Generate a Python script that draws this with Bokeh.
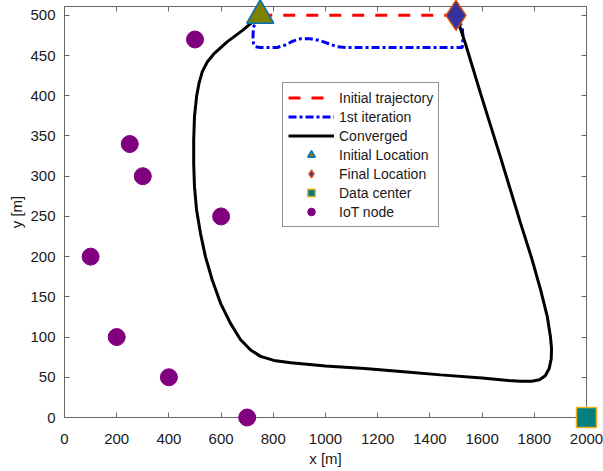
from bokeh.plotting import figure
from bokeh.models import Range1d, FixedTicker, LinearAxis, Legend, LegendItem
from bokeh.embed import file_html
from bokeh.resources import INLINE

# ---------------- data ----------------
x_ticks = [0, 200, 400, 600, 800, 1000, 1200, 1400, 1600, 1800, 2000]
y_ticks = [0, 50, 100, 150, 200, 250, 300, 350, 400, 450, 500]

iot_x = [500, 250, 300, 600, 100, 200, 400, 700]
iot_y = [470, 340, 300, 250, 200, 100, 50, 0]

init_loc_x = [750]
init_loc_y = [500]
final_loc_x = [1500]
final_loc_y = [500]
dc_x = [2000]
dc_y = [0]

init_traj_x = [750, 1500]
init_traj_y = [500, 500]

iter1_x = [750, 735, 724, 722, 724, 732, 750, 815, 845, 875, 905, 940, 975,
           1010, 1045, 1083, 1200, 1350, 1524, 1527, 1524, 1500]
iter1_y = [500, 494, 485, 473, 465, 461, 460, 460, 463, 468, 471, 471, 469,
           465, 461, 460, 460, 460, 460, 472, 485, 500]

conv_x = [750, 681, 623, 572, 547, 528, 515, 506, 498, 495, 495, 498, 506, 521,
          540, 566, 598, 636, 674, 713, 751, 802, 867, 1000, 1150, 1300, 1441,
          1600, 1700, 1747, 1790, 1820, 1842, 1857, 1865, 1866, 1862, 1850,
          1824, 1790, 1747, 1670, 1594, 1536, 1500]
conv_y = [500, 481, 467, 452, 442, 430, 415, 399, 374, 345, 316, 287, 258, 229,
          200, 171, 142, 117, 97, 84, 76, 71, 68, 64, 61, 57, 53,
          49, 46, 45, 45, 47, 52, 61, 73, 86, 100, 125,
          159, 198, 242, 324, 403, 465, 500]

FONT = "Liberation Sans"
AXC = "#666666"
TXT = "#1a1a1a"

p = figure(width=603, height=471, output_backend="svg", toolbar_location=None,
           x_range=Range1d(0, 2000), y_range=Range1d(0, 511),
           min_border_left=64, min_border_right=17, min_border_top=6,
           min_border_bottom=54,
           x_axis_label="x [m]", y_axis_label="y [m]")
p.xgrid.visible = False
p.ygrid.visible = False
p.outline_line_color = AXC
p.background_fill_color = "white"
p.border_fill_color = "white"

for ax in p.xaxis:
    ax.ticker = FixedTicker(ticks=x_ticks)
    ax.major_label_standoff = 16
    ax.axis_label_standoff = 3
for ax in p.yaxis:
    ax.ticker = FixedTicker(ticks=y_ticks)
    ax.major_label_standoff = 9
    ax.axis_label_standoff = 2
for ax in list(p.xaxis) + list(p.yaxis):
    ax.major_tick_in = 5
    ax.major_tick_out = 0
    ax.minor_tick_line_color = None
    ax.axis_line_color = AXC
    ax.major_tick_line_color = AXC
    ax.major_label_text_font = FONT
    ax.major_label_text_font_size = "15px"
    ax.major_label_text_color = TXT
    ax.axis_label_text_font = FONT
    ax.axis_label_text_font_size = "15px"
    ax.axis_label_text_font_style = "normal"
    ax.axis_label_text_color = TXT

top_ax = LinearAxis(ticker=FixedTicker(ticks=x_ticks),
                    major_label_overrides={t: "" for t in x_ticks},
                    major_label_text_font_size="0px",
                    major_label_standoff=0, major_tick_in=5, major_tick_out=0,
                    minor_tick_line_color=None, axis_line_color=AXC,
                    major_tick_line_color=AXC)
right_ax = LinearAxis(ticker=FixedTicker(ticks=y_ticks),
                      major_label_overrides={t: "" for t in y_ticks},
                      major_label_text_font_size="0px",
                      major_label_standoff=0, major_tick_in=5, major_tick_out=0,
                      minor_tick_line_color=None, axis_line_color=AXC,
                      major_tick_line_color=AXC)
p.add_layout(top_ax, "above")
p.add_layout(right_ax, "right")

r_init = p.line(init_traj_x, init_traj_y, line_color="#ff0000", line_width=3,
                line_dash="12 11")
r_iter = p.line(iter1_x, iter1_y, line_color="#0000ff", line_width=3,
                line_dash="8 3 3 3")
r_conv = p.line(conv_x, conv_y, line_color="#000000", line_width=3)
r_iot = p.scatter(iot_x, iot_y, marker="circle", size=17, fill_color="#800080",
                  line_color="#800080", level="overlay")
r_dc = p.scatter(dc_x, dc_y, marker="square", size=20, fill_color="#008080",
                 line_color="#EDB120", line_width=1.5, level="overlay")
r_start = p.scatter(init_loc_x, init_loc_y, marker="triangle", size=27,
                    fill_color="#808000", line_color="#0072BD", line_width=1.5,
                    level="overlay")
r_end = p.scatter(final_loc_x, final_loc_y, marker="diamond", size=30,
                  fill_color="#333399", line_color="#D95319", line_width=1.5,
                  level="overlay")

legend = Legend(items=[
    LegendItem(label="Initial trajectory", renderers=[r_init]),
    LegendItem(label="1st iteration", renderers=[r_iter]),
    LegendItem(label="Converged", renderers=[r_conv]),
    LegendItem(label="Initial Location", renderers=[r_start]),
    LegendItem(label="Final Location", renderers=[r_end]),
    LegendItem(label="Data center", renderers=[r_dc]),
    LegendItem(label="IoT node", renderers=[r_iot]),
], location=(218, 190), glyph_width=46, glyph_height=19, label_height=19,
    spacing=0, padding=5, label_standoff=5, margin=0,
    label_text_font=FONT, label_text_font_size="14px", label_text_color=TXT,
    border_line_color="#262626", border_line_width=1,
    background_fill_color="white", background_fill_alpha=1.0)
p.add_layout(legend)

open("out.html", "w").write(file_html(p, INLINE))
